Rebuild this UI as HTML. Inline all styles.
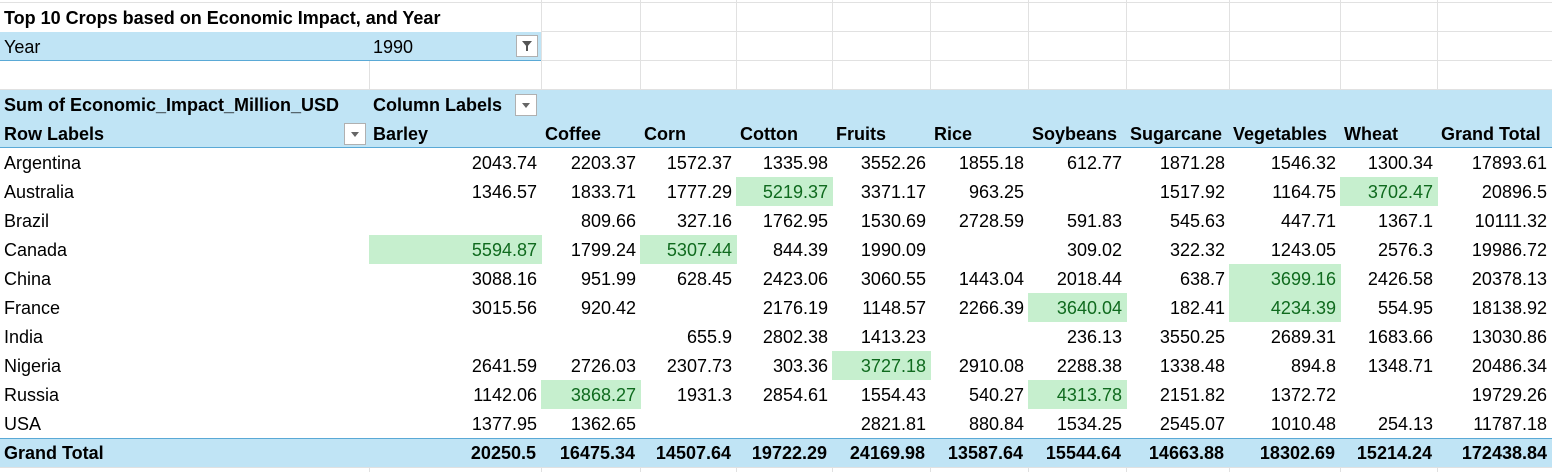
<!DOCTYPE html>
<html><head><meta charset="utf-8"><style>
body{margin:0;width:1552px;height:472px;background:#fff;position:relative;overflow:hidden;font-family:"Liberation Sans",sans-serif;font-size:18px;color:#000}
.c{position:absolute;height:29px;line-height:31px;white-space:nowrap;box-sizing:border-box}
.r{text-align:right;padding-right:5px}
.l{padding-left:4px}
.b{font-weight:bold}
.g{background:#c6efce;color:#0f6a1e}
.hl{position:absolute;background:#e1e1e1}
.dd{position:absolute;width:22px;height:22px;border:1px solid #b0b0b0;background:#fff;box-sizing:border-box}
.dd:after{content:"";position:absolute;left:6px;top:8px;border-left:4px solid transparent;border-right:4px solid transparent;border-top:5px solid #666}
.fn:after{left:5px;top:5px;border-left:5px solid transparent;border-right:5px solid transparent;border-top:6px solid #555}
.fn:before{content:"";position:absolute;left:9px;top:10px;width:2px;height:5px;background:#555}
</style></head><body>
<div id="grid"></div>
<div class="c l b" style="left:0;top:3px;width:541px">Top 10 Crops based on Economic Impact, and Year</div>
<div style="position:absolute;left:0;top:32px;width:541px;height:29px;background:#c0e4f5;border-bottom:1px solid #5aa9d6;box-sizing:border-box"></div>
<div class="c l" style="left:0;top:32px;width:369px">Year</div>
<div class="c l" style="left:369px;top:32px;width:172px">1990</div>
<div class="dd fn" style="left:516px;top:35px"></div>
<div style="position:absolute;left:0;top:90px;width:1552px;height:58px;background:#c0e4f5;border-bottom:1px solid #5aa9d6;box-sizing:border-box"></div>
<div class="c l b" style="left:0;top:90px;width:369px">Sum of Economic_Impact_Million_USD</div>
<div class="c l b" style="left:369px;top:90px;width:172px">Column Labels</div>
<div class="dd" style="left:515px;top:94px"></div>
<div class="c l b" style="left:0;top:119px;width:369px">Row Labels</div>
<div class="dd" style="left:344px;top:123px"></div>
<div id="t"></div>
<script>
const edges=[0,369,541,640,736,832,930,1028,1126,1229,1340,1437,1552];
const crops=["Barley","Coffee","Corn","Cotton","Fruits","Rice","Soybeans","Sugarcane","Vegetables","Wheat","Grand Total"];
const countries=["Argentina","Australia","Brazil","Canada","China","France","India","Nigeria","Russia","USA"];
const values=[
["2043.74","2203.37","1572.37","1335.98","3552.26","1855.18","612.77","1871.28","1546.32","1300.34","17893.61"],
["1346.57","1833.71","1777.29","5219.37","3371.17","963.25","","1517.92","1164.75","3702.47","20896.5"],
["","809.66","327.16","1762.95","1530.69","2728.59","591.83","545.63","447.71","1367.1","10111.32"],
["5594.87","1799.24","5307.44","844.39","1990.09","","309.02","322.32","1243.05","2576.3","19986.72"],
["3088.16","951.99","628.45","2423.06","3060.55","1443.04","2018.44","638.7","3699.16","2426.58","20378.13"],
["3015.56","920.42","","2176.19","1148.57","2266.39","3640.04","182.41","4234.39","554.95","18138.92"],
["","","655.9","2802.38","1413.23","","236.13","3550.25","2689.31","1683.66","13030.86"],
["2641.59","2726.03","2307.73","303.36","3727.18","2910.08","2288.38","1338.48","894.8","1348.71","20486.34"],
["1142.06","3868.27","1931.3","2854.61","1554.43","540.27","4313.78","2151.82","1372.72","","19729.26"],
["1377.95","1362.65","","","2821.81","880.84","1534.25","2545.07","1010.48","254.13","11787.18"]];
const totals=["20250.5","16475.34","14507.64","19722.29","24169.98","13587.64","15544.64","14663.88","18302.69","15214.24","172438.84"];
const highlights=[[1,3],[1,9],[3,0],[3,2],[4,8],[5,6],[5,8],[7,4],[8,1],[8,6]];
const t=document.getElementById('t'),grid=document.getElementById('grid');
function hl(x,y,w,h){const d=document.createElement('div');d.className='hl';d.style.cssText=`left:${x}px;top:${y}px;width:${w}px;height:${h}px`;

grid.appendChild(d);}
for(let i=2;i<edges.length-1;i++)hl(edges[i],0,1,90);
hl(369,61,1,29);
[2,31].forEach(y=>hl(541,y,1011,1));hl(0,60,1552,1);hl(0,89,1552,1);hl(0,2,541,1);
for(let i=1;i<edges.length-1;i++)hl(edges[i],467,1,5);hl(0,467,1552,1);
function cell(cls,x,y,w,txt,name){const d=document.createElement('div');d.className='c '+cls;d.style.cssText=`left:${x}px;top:${y}px;width:${w}px`;d.textContent=txt;

t.appendChild(d);return d;}
crops.forEach((c,j)=>cell('l b',edges[j+1],119,edges[j+2]-edges[j+1],c,'header-'+c.toLowerCase().replace(' ','-')));
countries.forEach((c,i)=>{const y=148+i*29;
cell('l',0,y,369,c,'row-'+c.toLowerCase());
values[i].forEach((v,j)=>{const g=highlights.some(h=>h[0]===i&&h[1]===j);
cell('r'+(g?' g':''),edges[j+1],y,edges[j+2]-edges[j+1]+(j<10?1:0),v,'value-'+c.toLowerCase()+'-'+crops[j].toLowerCase().replace(' ','-'));});});
const gb=document.createElement('div');gb.style.cssText='position:absolute;left:0;top:438px;width:1552px;height:29px;background:#c0e4f5;border-top:1px solid #5aa9d6;box-sizing:border-box';

t.appendChild(gb);
cell('l b',0,438,369,'Grand Total','grand-total-label');
totals.forEach((v,j)=>cell('r b',edges[j+1],438,edges[j+2]-edges[j+1],v,'total-'+crops[j].toLowerCase().replace(' ','-')));
</script>
</body></html>
